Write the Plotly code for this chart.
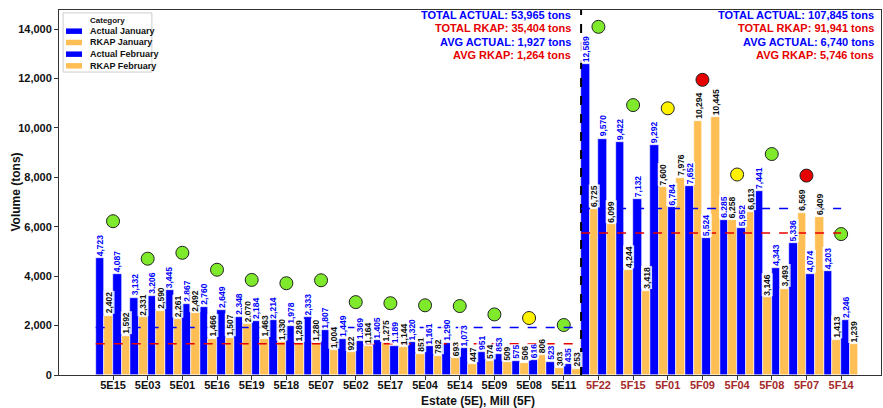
import numpy as np
import plotly.graph_objects as go

left_cats = ["5E15", "5E03", "5E01", "5E16", "5E19", "5E18", "5E07", "5E02",
             "5E17", "5E04", "5E14", "5E09", "5E08", "5E11"]
right_cats = ["5F22", "5F15", "5F01", "5F09", "5F04", "5F08", "5F07", "5F14"]

actual_jan = [4723, 3132, 3445, 2760, 2348, 2214, 2333, 1449, 1405, 1320, 1290, 951, 575, 523,
              12589, 9422, 9292, 7652, 6285, 7441, 5336, 4203]
rkap_jan = [2402, 2331, 2261, 1466, 2070, 1330, 1280, 922, 1275, 851, 693, 574, 506, 303,
            6725, 4244, 7600, 10294, 6258, 3146, 6569, 1413]
actual_feb = [4087, 3206, 2867, 2649, 2184, 1978, 1807, 1369, 1189, 1161, 1073, 853, 616, 435,
              9570, 7132, 6784, 5524, 5952, 4343, 4074, 2246]
rkap_feb = [1592, 2590, 2492, 1507, 1463, 1289, 1004, 1164, 1144, 782, 447, 509, 806, 253,
            6099, 3418, 7976, 10445, 6613, 3493, 6409, 1239]

# summary values as printed on the chart
left_summary = {"total_actual": 53965, "total_rkap": 35404, "avg_actual": 1927, "avg_rkap": 1264}
right_summary = {"total_actual": 107845, "total_rkap": 91941, "avg_actual": 6740, "avg_rkap": 5746}

y_ticks = [0, 2000, 4000, 6000, 8000, 10000, 12000, 14000]

FONT = "Liberation Sans, Arial, sans-serif"
BLUE = "#0000FF"
ORANGE = "#FFBF55"
GREEN = "#7FEA2C"
YELLOW = "#FFF200"
RED = "#E60000"
TXT = "#111111"
MARKER_OFFSET = 1500

cats = left_cats + right_cats
n = len(cats)
nl = len(left_cats)
idx = np.arange(n)

series = [
    ("Actual January", actual_jan, BLUE, -0.375, BLUE),
    ("RKAP January", rkap_jan, ORANGE, -0.125, TXT),
    ("Actual February", actual_feb, BLUE, 0.125, BLUE),
    ("RKAP February", rkap_feb, ORANGE, 0.375, TXT),
]

fig = go.Figure()
annotations = []
for name, vals, col, off, tcol in series:
    fig.add_trace(go.Bar(
        x=idx + off, y=vals, width=0.25, name=name, showlegend=False,
        marker=dict(color=col, line=dict(color="white", width=0.6)),
    ))
    for i, v in enumerate(vals):
        annotations.append(dict(
            x=i + off, y=v, xref="x", yref="y", text=f"<b>{v:,}</b>",
            textangle=-90, showarrow=False, xanchor="center", yanchor="bottom",
            yshift=1, font=dict(family=FONT, size=8.5, color=tcol),
            bgcolor="rgba(255,255,255,0.85)", borderpad=0,
        ))

# status markers
dot_y = [max(a, b, c, d) + MARKER_OFFSET for a, b, c, d in zip(actual_jan, rkap_jan, actual_feb, rkap_feb)]
dot_col = []
for a, r in zip(actual_feb, rkap_feb):
    ratio = a / r
    dot_col.append(GREEN if ratio >= 1 else (YELLOW if ratio >= 0.7 else RED))
fig.add_trace(go.Scatter(
    x=idx, y=dot_y, mode="markers", showlegend=False,
    marker=dict(size=13, color=dot_col, line=dict(color="#222222", width=1)),
))

shapes = []
# divider
shapes.append(dict(type="line", xref="x", yref="paper", x0=nl - 0.5, x1=nl - 0.5, y0=0, y1=1,
                   line=dict(color="black", width=2, dash="dash")))
# average lines
for s, x0, x1 in [(left_summary, -0.5, nl - 0.5), (right_summary, nl - 0.5, n - 1)]:
    shapes.append(dict(type="line", xref="x", yref="y", x0=x0, x1=x1,
                       y0=s["avg_actual"], y1=s["avg_actual"],
                       line=dict(color=BLUE, width=1.5, dash="dash")))
    shapes.append(dict(type="line", xref="x", yref="y", x0=x0, x1=x1,
                       y0=s["avg_rkap"], y1=s["avg_rkap"],
                       line=dict(color=RED, width=1.5, dash="dash")))


def summary_block(s, x, xref):
    lines = [
        (f"TOTAL ACTUAL: {s['total_actual']:,} tons", BLUE),
        (f"TOTAL RKAP: {s['total_rkap']:,} tons", RED),
        (f"AVG ACTUAL: {s['avg_actual']:,} tons", BLUE),
        (f"AVG RKAP: {s['avg_rkap']:,} tons", RED),
    ]
    ys = [0.986, 0.950, 0.912, 0.876]
    out = []
    for (t, c), yy in zip(lines, ys):
        out.append(dict(x=x, y=yy, xref=xref, yref="paper", text=f"<b>{t}</b>",
                        showarrow=False, xanchor="right", yanchor="middle",
                        font=dict(family=FONT, size=11, color=c)))
    return out


annotations += summary_block(left_summary, nl - 0.73, "x")
annotations += summary_block(right_summary, 0.994, "paper")

# legend (drawn manually to match compact matplotlib-style legend)
leg_names = [s[0] for s in series]
leg_cols = [s[2] for s in series]
shapes.append(dict(type="rect", xref="paper", yref="paper", x0=0.005, x1=0.113, y0=0.830, y1=0.992,
                   fillcolor="white", line=dict(color="#CCCCCC", width=1), layer="above"))
annotations.append(dict(x=0.059, y=0.972, xref="paper", yref="paper", text="<b>Category</b>",
                        showarrow=False, xanchor="center", yanchor="middle",
                        font=dict(family=FONT, size=8, color=TXT)))
leg_y = [0.942, 0.911, 0.879, 0.847]
for nm, col, yy in zip(leg_names, leg_cols, leg_y):
    shapes.append(dict(type="rect", xref="paper", yref="paper", x0=0.0085, x1=0.028,
                       y0=yy - 0.0075, y1=yy + 0.0075, fillcolor=col,
                       line=dict(width=0), layer="above"))
    annotations.append(dict(x=0.035, y=yy, xref="paper", yref="paper", text=f"<b>{nm}</b>",
                            showarrow=False, xanchor="left", yanchor="middle",
                            font=dict(family=FONT, size=9, color=TXT)))

# axis titles
annotations.append(dict(x=0.51, y=-0.07, xref="paper", yref="paper",
                        text="<b>Estate (5E), Mill (5F)</b>", showarrow=False,
                        xanchor="center", yanchor="middle",
                        font=dict(family=FONT, size=12, color=TXT)))
annotations.append(dict(x=-0.0535, y=0.5, xref="paper", yref="paper",
                        text="<b>Volume (tons)</b>", showarrow=False, textangle=-90,
                        xanchor="center", yanchor="middle",
                        font=dict(family=FONT, size=12, color=TXT)))

ticktext = [f"<b>{c}</b>" for c in left_cats] + \
           [f"<b><span style='color:#A52A2A'>{c}</span></b>" for c in right_cats]

fig.update_layout(
    width=883, height=408,
    margin=dict(l=59, r=2, t=10, b=33),
    paper_bgcolor="white", plot_bgcolor="white",
    barmode="overlay", bargap=0, showlegend=False,
    font=dict(family=FONT, color=TXT),
    shapes=shapes, annotations=annotations,
    xaxis=dict(
        range=[-1.558, 22.15], tickmode="array", tickvals=list(idx), ticktext=ticktext,
        showgrid=False, zeroline=False, showline=True, linecolor="#333333", linewidth=1,
        mirror=True, ticks="outside", ticklen=4, tickcolor="#333333", automargin=False,
        ticklabelstandoff=-4,
        tickfont=dict(family=FONT, size=11, color=TXT),
    ),
    yaxis=dict(
        range=[0, 14770], tickmode="array", tickvals=y_ticks,
        ticktext=[f"<b>{v:,}</b>" for v in y_ticks],
        showgrid=False, zeroline=False, showline=True, linecolor="#333333", linewidth=1,
        mirror=True, ticks="outside", ticklen=4, tickcolor="#333333", automargin=False,
        tickfont=dict(family=FONT, size=11, color=TXT),
    ),
)

fig.write_html("out.html", config={"displayModeBar": False},
               post_script="document.body.style.margin='0';document.body.style.overflow='hidden';")
